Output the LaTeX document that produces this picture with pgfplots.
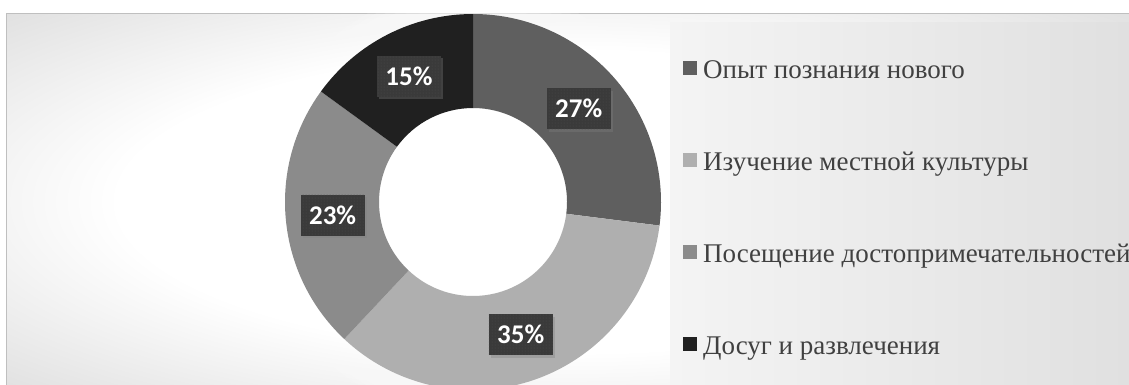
\documentclass[border=0pt]{standalone}
\usepackage{fontspec}
\setmainfont{Liberation Serif}
\newfontfamily\lblfont{Carlito}
\usepackage{pgfplots}
\pgfplotsset{compat=1.18}
\usepackage{pgfplotstable}
\usetikzlibrary{shadows,patterns}

\definecolor{donut0}{HTML}{5F5F5F}
\definecolor{donut1}{HTML}{AFAFAF}
\definecolor{donut2}{HTML}{8B8B8B}
\definecolor{donut3}{HTML}{202020}
\definecolor{lblbg}{HTML}{3A3A3A}
\definecolor{lbldot}{HTML}{4E4E4E}
\definecolor{legtext}{HTML}{404040}
\definecolor{framecol}{HTML}{BFBFBF}
\definecolor{bggray}{HTML}{C4C4C4}
\definecolor{leg0}{HTML}{F9F9F9}
\definecolor{leg1}{HTML}{F4F4F4}
\definecolor{leg2}{HTML}{E1E1E1}
\definecolor{leg3}{HTML}{D4D4D4}

\pgfdeclareradialshading{outerbg}{\pgfpoint{0bp}{0bp}}{color(0bp)=(white); color(20bp)=(white); color(50bp)=(bggray)}
\pgfdeclarehorizontalshading{legbg}{100bp}{color(0bp)=(leg0); color(25bp)=(leg1); color(72bp)=(leg2); color(100bp)=(leg3)}

\tikzset{lbl/.style={fill=lblbg, text=white, font=\lblfont\bfseries\fontsize{27}{30}\selectfont,
    minimum width=64pt, minimum height=41pt, inner sep=0pt,
    drop shadow={shadow xshift=2pt, shadow yshift=-2.5pt, opacity=0.35},
    postaction={pattern=dots, pattern color=lbldot}}}

% shares in percent, clockwise from the top
\pgfplotstableread{
value
27
35
23
15
}\donut

\def\cx{473}
\def\cy{202}
\def\Rout{188}
\def\Rin{94}

\begin{document}
\begin{tikzpicture}
\begin{axis}[
  width=1129pt, height=384pt, scale only axis,
  xmin=0, xmax=1129, ymin=0, ymax=384, y dir=reverse,
  hide axis, clip=false,
  legend style={at={(axis cs:680,57)}, anchor=north west, draw=none, fill=none,
    font=\fontsize{27}{30}\selectfont, text=legtext,
    row sep=67pt, column sep=0pt,
    nodes={inner sep=0pt, text height=19pt, text depth=6pt}},
  legend cell align=left,
]
\shade[shading=outerbg] (axis cs:6,13) rectangle (axis cs:1135,390);
\draw[framecol, line width=1pt] (axis cs:6,390) -- (axis cs:6,13) -- (axis cs:1135,13);
% soft white halo round the ring
\fill[white, opacity=0.12] (axis cs:\cx,\cy) circle[radius=216pt];
\fill[white, opacity=0.12] (axis cs:\cx,\cy) circle[radius=212pt];
\fill[white, opacity=0.12] (axis cs:\cx,\cy) circle[radius=208pt];
\fill[white, opacity=0.12] (axis cs:\cx,\cy) circle[radius=204pt];
\fill[white, opacity=0.12] (axis cs:\cx,\cy) circle[radius=200pt];
\fill[white, opacity=0.12] (axis cs:\cx,\cy) circle[radius=196pt];
\fill[white, opacity=0.12] (axis cs:\cx,\cy) circle[radius=192pt];
\fill[white] (axis cs:\cx,\cy) circle[radius=\Rin pt];
\shade[shading=legbg] (axis cs:670,22) rectangle (axis cs:1135,390);

\def\cum{0}
\pgfplotsforeachungrouped \i in {0,1,2,3}{%
  \pgfplotstablegetelem{\i}{value}\of\donut
  \let\val\pgfplotsretval
  \pgfmathsetmacro\angA{90-3.6*\cum}%
  \pgfmathsetmacro\cum{\cum+\val}%
  \pgfmathsetmacro\angB{90-3.6*\cum}%
  \pgfmathsetmacro\angM{(\angA+\angB)/2}%
  \pgfmathsetmacro\angBB{\angB+180}%
  \pgfmathtruncatemacro\valint{\val}%
  \edef\temp{%
    \noexpand\fill[donut\i] (axis cs:\cx,\cy) ++(\angA:\Rout pt)
      arc[start angle=\angA, end angle=\angB, radius=\Rout pt]
      -- ++(\angBB:94pt)
      arc[start angle=\angB, end angle=\angA, radius=\Rin pt] -- cycle;
    \noexpand\path (axis cs:\cx,\cy) ++(\angM:141pt) node[lbl] {\valint\noexpand\%};
  }%
  \temp
}

\pgfplotsset{legend image code/.code={\fill (0pt,-3pt) rectangle (14pt,11pt);}}
\addlegendimage{fill=donut0, draw=none}
\addlegendimage{fill=donut1, draw=none}
\addlegendimage{fill=donut2, draw=none}
\addlegendimage{fill=donut3, draw=none}
\legend{\hspace{6pt}Опыт познания нового,
        \hspace{6pt}Изучение местной культуры,
        \hspace{6pt}Посещение достопримечательностей,
        \hspace{6pt}Досуг и развлечения}
\end{axis}
\pgfresetboundingbox
\useasboundingbox (current axis.south west) rectangle (current axis.north east);
\end{tikzpicture}
\end{document}
